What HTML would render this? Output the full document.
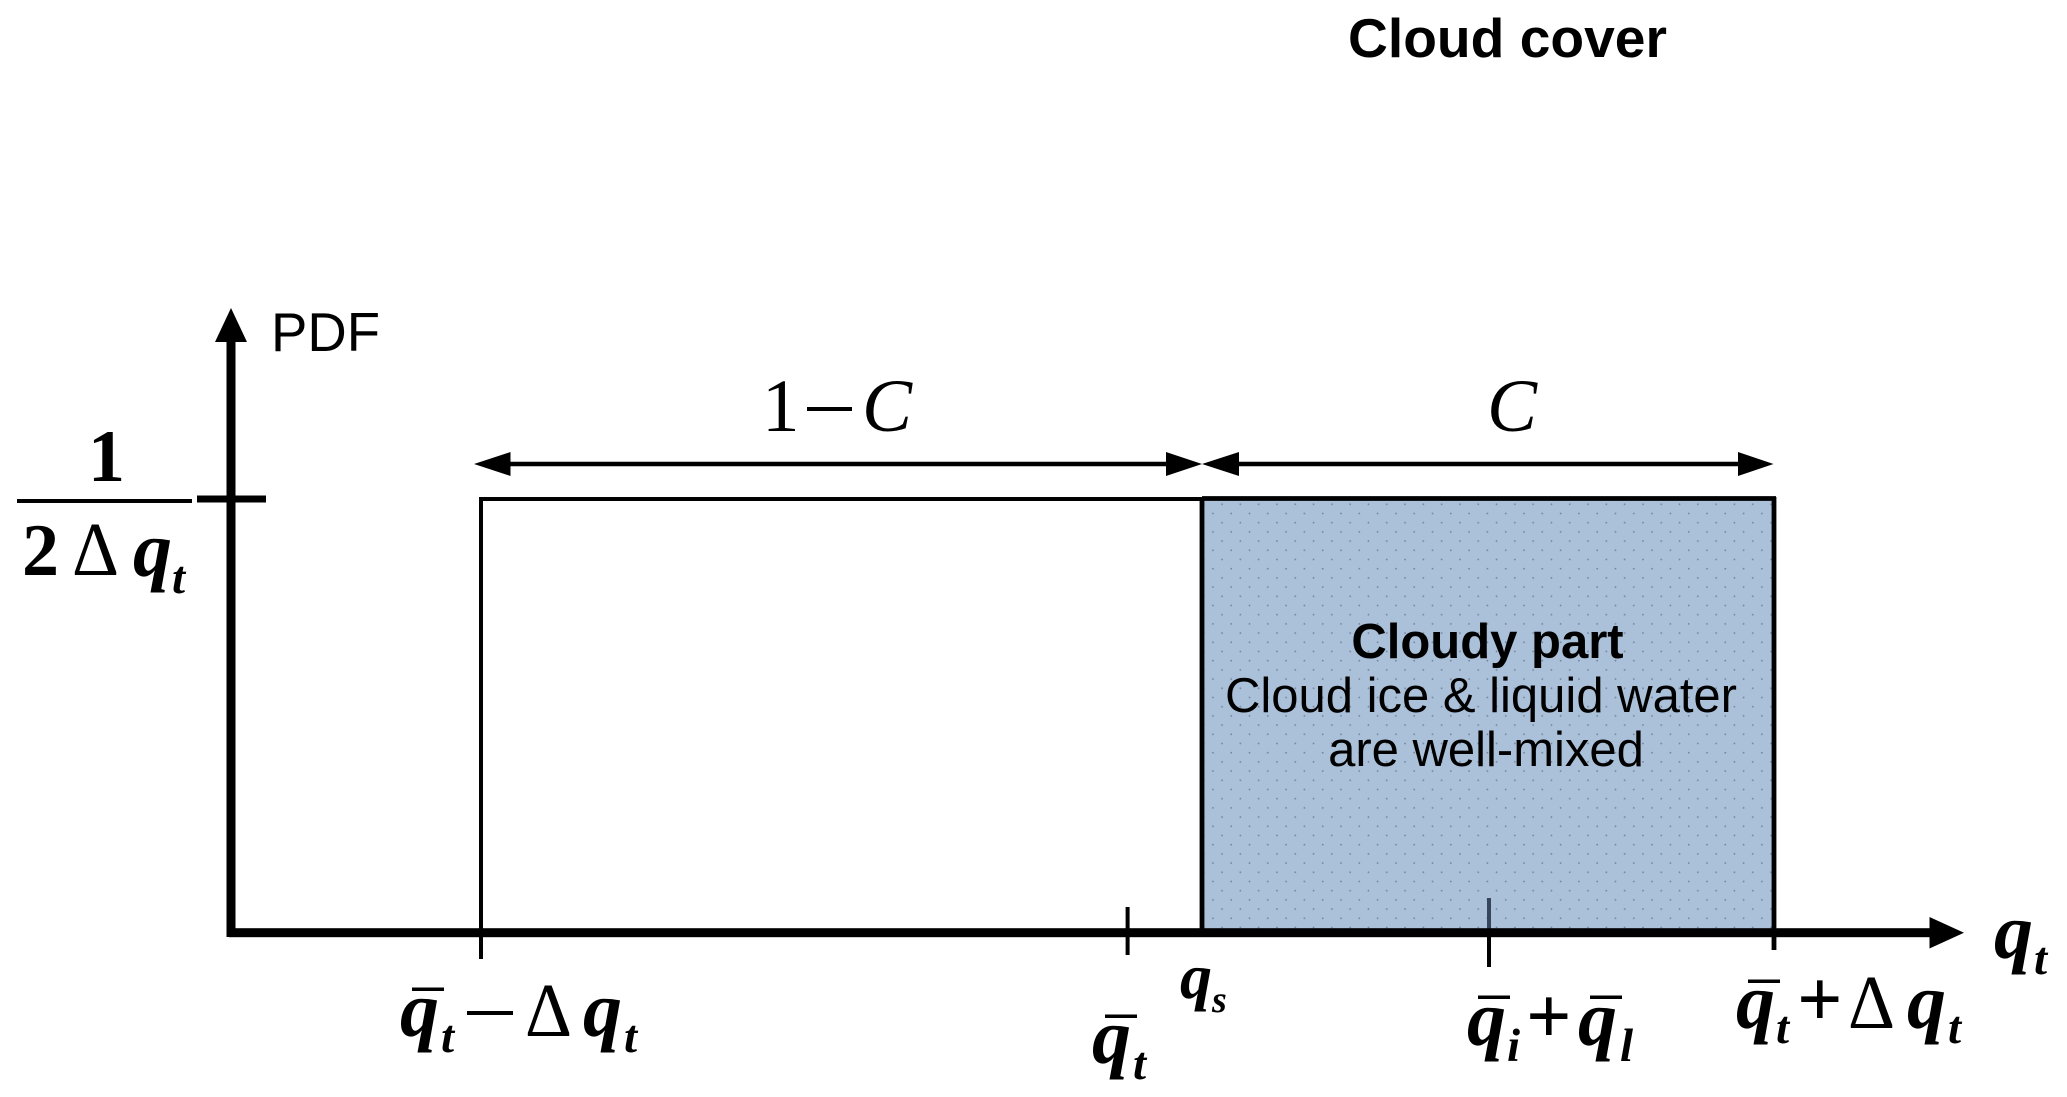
<!DOCTYPE html>
<html><head><meta charset="utf-8"><style>
html,body{margin:0;padding:0;background:#fff;width:2067px;height:1097px;overflow:hidden}
svg{display:block}
.s{font-family:"Liberation Sans",sans-serif;fill:#000}
.m{font-family:"Liberation Serif",serif;fill:#000}
.q{font-weight:bold;font-style:italic;font-size:78px}
.t{font-style:italic;font-size:47px;font-weight:bold}
.d{font-size:76px}
.p{font-weight:bold;font-size:80px}
</style></head><body>
<svg width="2067" height="1097" viewBox="0 0 2067 1097" xmlns="http://www.w3.org/2000/svg">
<defs><pattern id="dots" x="1211.7" y="604.3" width="18.3" height="18.4" patternUnits="userSpaceOnUse">
<circle cx="1.2" cy="1.2" r="0.9" fill="#75879d"/><circle cx="10.35" cy="10.4" r="0.9" fill="#75879d"/></pattern></defs>
<text class="s" x="1348" y="57" font-size="55" font-weight="bold" textLength="319" lengthAdjust="spacingAndGlyphs">Cloud cover</text>
<rect x="1202" y="499" width="572" height="433" fill="#abc0d9"/>
<rect x="1204" y="501" width="568" height="428" fill="url(#dots)"/>
<path d="M481 499H1202M481 497V959" stroke="#000" stroke-width="4" fill="none"/>
<path d="M1202 498.500H1776M1202 497V930M1774 497V950" stroke="#000" stroke-width="4.800" fill="none"/>
<path d="M1127.600 907V955" stroke="#000" stroke-width="4"/>
<path d="M1489 898V929" stroke="#36465a" stroke-width="4"/>
<path d="M1489 929V967" stroke="#000" stroke-width="4"/>
<rect x="226.500" y="340" width="9" height="597" fill="#000"/>
<path d="M231 308L247 342H215Z" fill="#000"/>
<rect x="197" y="495.500" width="69" height="7" fill="#000"/>
<rect x="229" y="928.200" width="1702" height="9" fill="#000"/>
<path d="M1964 932.700L1929.500 917V948.500Z" fill="#000"/>
<path d="M505 464H1170M1235 464H1745" stroke="#000" stroke-width="4.500"/>
<path d="M474 464L510.500 452V476Z M1202 464L1166 452V476Z M1202 464L1239 452V476Z M1773.500 464L1738 452V476Z" fill="#000"/>
<text class="s" x="271" y="351" font-size="54.500">PDF</text>
<text class="s" x="1487.500" y="658" font-size="49" font-weight="bold" text-anchor="middle">Cloudy part</text>
<text class="s" x="1481" y="712" font-size="49" text-anchor="middle">Cloud ice &amp; liquid water</text>
<text class="s" x="1486" y="766" font-size="49" text-anchor="middle">are well-mixed</text>
<text class="m" x="762" y="431" font-size="75">1</text>
<rect x="807" y="407" width="45" height="4" fill="#000"/>
<text class="m" x="862" y="431" font-size="75" font-style="italic">C</text>
<text class="m" x="1487" y="431" font-size="75" font-style="italic">C</text>
<text class="m" x="106.500" y="481" font-size="74" font-weight="bold" text-anchor="middle">1</text>
<rect x="17" y="499" width="175" height="4" fill="#000"/>
<text class="m" x="22" y="575" font-size="74" font-weight="bold">2</text>
<text class="m d" x="72" y="575" textLength="47" lengthAdjust="spacingAndGlyphs">Δ</text>
<text class="m q" x="133" y="576">q</text>
<text class="m t" x="172" y="593">t</text>
<text class="m q" x="1994" y="958">q</text>
<text class="m t" x="2034" y="974">t</text>
<text class="m q" x="400" y="1036">q</text>
<rect x="412" y="987.500" width="32" height="3.500" fill="#000"/>
<text class="m t" x="441" y="1052">t</text>
<rect x="467" y="1011" width="46" height="4" fill="#000"/>
<text class="m d" x="525" y="1036" textLength="47" lengthAdjust="spacingAndGlyphs">Δ</text>
<text class="m q" x="583" y="1036">q</text>
<text class="m t" x="624" y="1052">t</text>
<text class="m q" x="1092" y="1063">q</text>
<rect x="1105" y="1014.500" width="32" height="3.500" fill="#000"/>
<text class="m t" x="1133" y="1079">t</text>
<text class="m q" x="1180" y="998" style="font-size:64px">q</text>
<text class="m t" x="1212" y="1012" style="font-size:38px">s</text>
<text class="m q" x="1467" y="1045">q</text>
<rect x="1478" y="995.500" width="32" height="3.500" fill="#000"/>
<text class="m t" x="1507" y="1061">i</text>
<text class="m p" x="1526" y="1043">+</text>
<text class="m q" x="1578" y="1045">q</text>
<rect x="1590" y="995.500" width="32" height="3.500" fill="#000"/>
<text class="m t" x="1620" y="1061">l</text>
<text class="m q" x="1736" y="1028">q</text>
<rect x="1748" y="979.500" width="32" height="3.500" fill="#000"/>
<text class="m t" x="1776" y="1043">t</text>
<text class="m p" x="1797" y="1026">+</text>
<text class="m d" x="1848" y="1028" textLength="47" lengthAdjust="spacingAndGlyphs">Δ</text>
<text class="m q" x="1907" y="1028">q</text>
<text class="m t" x="1948" y="1043">t</text>
</svg>
</body></html>
